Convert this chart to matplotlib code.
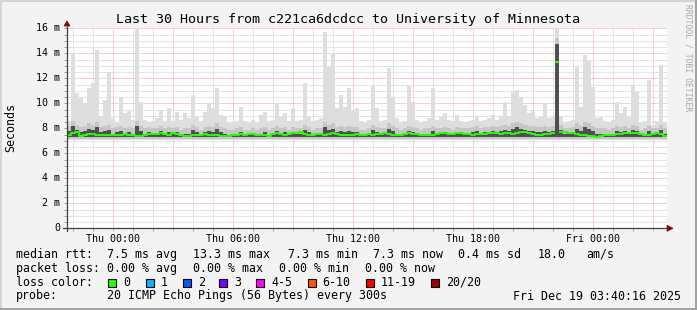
import numpy as np
import matplotlib
matplotlib.use("Agg")
import matplotlib.pyplot as plt
from matplotlib.patches import Rectangle, Polygon
from matplotlib.lines import Line2D

# -----------------------------
# data (ms), 150 bins of 12 minutes over 30 hours
# -----------------------------
rtt_max = [
    8.6, 14.0, 10.8, 10.4, 10.0, 11.2, 11.6, 14.3, 9.0, 10.3,
    12.5, 8.8, 8.5, 10.5, 9.2, 9.4, 8.7, 16.0, 10.1, 8.7,
    8.5, 8.6, 8.8, 9.5, 8.6, 9.6, 8.6, 9.3, 8.7, 9.2,
    8.8, 10.7, 9.0, 8.6, 9.3, 10.0, 9.6, 11.25, 9.1, 9.0,
    8.4, 8.5, 8.6, 9.7, 8.6, 8.5, 8.7, 8.5, 9.1, 9.3,
    8.6, 8.7, 10.0, 9.0, 9.2, 8.6, 9.6, 8.6, 8.7, 11.6,
    9.0, 8.6, 8.7, 8.8, 15.7, 12.9, 14.0, 9.6, 10.7, 9.7,
    11.2, 9.4, 9.6, 8.6, 8.5, 8.7, 11.4, 9.6, 8.6, 8.7,
    12.8, 10.5, 8.8, 8.5, 8.6, 11.4, 10.1, 8.7, 8.5, 8.6,
    8.8, 11.2, 8.7, 8.9, 9.2, 8.7, 8.6, 9.1, 8.6, 8.5,
    8.6, 8.7, 9.0, 8.6, 8.7, 8.8, 9.1, 8.7, 9.0, 10.1,
    9.0, 10.9, 11.1, 10.5, 9.9, 9.2, 9.4, 8.8, 8.9, 10.0,
    8.8, 9.0, 16.0, 9.0, 8.5, 8.6, 8.7, 12.9, 9.7, 13.9,
    13.4, 11.3, 8.8, 8.9, 8.6, 8.5, 8.7, 10.1, 9.2, 9.7,
    8.9, 11.5, 10.9, 8.4, 8.6, 11.9, 8.3, 8.6, 13.1, 8.5,
]

smoke_hi = [
    8.2, 8.6, 8.3, 8.1, 8.2, 8.4, 8.3, 8.5, 8.1, 8.2,
    8.3, 8.0, 8.1, 8.2, 8.0, 8.1, 8.0, 8.6, 8.2, 8.0,
    8.1, 8.0, 8.0, 8.2, 8.0, 8.1, 8.0, 8.1, 7.9, 8.0,
    8.0, 8.3, 8.1, 7.9, 8.1, 8.2, 8.1, 8.4, 8.1, 8.0,
    7.9, 7.9, 8.0, 8.1, 7.9, 7.9, 8.0, 7.9, 8.0, 8.1,
    7.9, 8.0, 8.2, 8.0, 8.1, 7.9, 8.1, 8.0, 8.0, 8.3,
    8.1, 7.9, 8.0, 8.0, 8.5, 8.3, 8.4, 8.1, 8.2, 8.1,
    8.2, 8.1, 8.1, 7.9, 7.9, 8.0, 8.3, 8.1, 8.0, 8.0,
    8.4, 8.2, 8.0, 7.9, 8.0, 8.2, 8.1, 8.0, 7.9, 8.0,
    8.0, 8.2, 8.0, 8.0, 8.1, 8.0, 7.9, 8.1, 8.0, 8.0,
    8.0, 8.1, 8.2, 8.0, 8.1, 8.1, 8.2, 8.1, 8.2, 8.3,
    8.2, 8.4, 8.5, 8.4, 8.3, 8.2, 8.2, 8.1, 8.1, 8.2,
    8.1, 8.2, 15.2, 8.3, 8.0, 8.0, 8.1, 8.4, 8.2, 8.5,
    8.4, 8.2, 8.0, 8.0, 8.0, 7.9, 8.0, 8.2, 8.1, 8.2,
    8.0, 8.3, 8.2, 7.9, 8.0, 8.2, 8.0, 8.0, 8.3, 8.0,
]

rtt_median = [
    7.48, 7.62, 7.72, 7.36, 7.44, 7.58, 7.52, 7.47, 7.43, 7.50,
    7.46, 7.44, 7.49, 7.45, 7.54, 7.50, 7.47, 7.42, 7.38, 7.45,
    7.58, 7.52, 7.56, 7.61, 7.54, 7.49, 7.64, 7.58, 7.44, 7.38,
    7.42, 7.47, 7.43, 7.50, 7.54, 7.49, 7.45, 7.47, 7.42, 7.40,
    7.38, 7.44, 7.49, 7.52, 7.47, 7.53, 7.55, 7.50, 7.45, 7.43,
    7.42, 7.52, 7.60, 7.56, 7.50, 7.58, 7.61, 7.66, 7.72, 7.58,
    7.47, 7.44, 7.51, 7.54, 7.50, 7.56, 7.61, 7.55, 7.49, 7.46,
    7.50, 7.47, 7.52, 7.48, 7.50, 7.54, 7.49, 7.52, 7.58, 7.64,
    7.55, 7.48, 7.45, 7.50, 7.56, 7.60, 7.57, 7.53, 7.49, 7.46,
    7.45, 7.50, 7.55, 7.62, 7.65, 7.58, 7.56, 7.60, 7.62, 7.57,
    7.53, 7.50, 7.55, 7.54, 7.58, 7.63, 7.65, 7.60, 7.57, 7.61,
    7.60, 7.58, 7.63, 7.68, 7.72, 7.65, 7.56, 7.50, 7.46, 7.52,
    7.58, 7.62, 13.30, 7.72, 7.68, 7.64, 7.62, 7.55, 7.50, 7.46,
    7.40, 7.35, 7.33, 7.38, 7.44, 7.46, 7.50, 7.55, 7.58, 7.61,
    7.62, 7.65, 7.60, 7.52, 7.47, 7.50, 7.58, 7.64, 7.55, 7.40,
]

bin_hours = 0.2
thu_midnight = 2.285          # hours after graph start
x_labels = ["Thu 00:00", "Thu 06:00", "Thu 12:00", "Thu 18:00", "Fri 00:00"]
y_values = [0, 2, 4, 6, 8, 10, 12, 14, 16]
y_labels = ["0", "2 m", "4 m", "6 m", "8 m", "10 m", "12 m", "14 m", "16 m"]

loss_labels = ["0", "1", "2", "3", "4-5", "6-10", "11-19", "20/20"]
loss_colors = ["#22ff00", "#00b8ff", "#0059ff", "#7e00ff", "#ff00ff",
               "#ff5500", "#ff0000", "#a00000"]

# -----------------------------
# figure
# -----------------------------
W, H = 697, 310
MONO = "DejaVu Sans Mono"
fig = plt.figure(figsize=(W / 100, H / 100), dpi=100, facecolor="#f3f3f3")


def fx(x):
    return x / W


def fy(y):
    return 1 - y / H


ax = fig.add_axes([fx(67), fy(228.3), 600 / W, 200 / H])
ax.set_facecolor("white")
ax.set_xlim(0, 30)
ax.set_ylim(0, 16)

n = len(rtt_max)
edges = np.arange(n + 1) * bin_hours
top = np.append(rtt_max, rtt_max[-1])
hi = np.append(smoke_hi, smoke_hi[-1])

# smoke
ax.fill_between(edges, 7.05, top, step="post", color="#dedede", lw=0, zorder=2)
ax.fill_between(edges, 7.15, hi, step="post", color="#c6c6c6", lw=0, zorder=3)
ax.fill_between(edges, 7.3, hi - 0.42, step="post", color="#505050", lw=0, zorder=4)

# median line (break on large jumps)
xs, ys = [], []
for i, m in enumerate(rtt_median):
    if i > 0 and abs(m - rtt_median[i - 1]) > 1:
        xs.append(np.nan)
        ys.append(np.nan)
    xs += [edges[i], edges[i + 1]]
    ys += [m, m]
ax.plot(xs, ys, color=loss_colors[0], lw=1.4, zorder=5, solid_capstyle="butt")

# grid
major_x = thu_midnight + 3 * np.arange(0, 10)
major_x = major_x[major_x <= 30]
minor_x = [h for h in thu_midnight - 2 + np.arange(0, 30)
           if (h <= 30) and not np.isclose((h - thu_midnight) % 3, 0)]
ax.set_xticks(major_x)
ax.set_xticklabels([x_labels[k // 2] if k % 2 == 0 else "" for k in range(len(major_x))],
                   fontsize=7.2, family=MONO)
ax.set_xticks(minor_x, minor=True)

ax.set_yticks(y_values)
ax.set_yticklabels([])
ax.set_yticks([v for v in np.arange(0, 16.01, 0.5) if v % 2 != 0], minor=True)

dots = (0, (1, 1))
ax.grid(which="major", color="#f2a0a0", linestyle=dots, linewidth=0.72, zorder=1)
ax.grid(which="minor", color="#cccccc", linestyle=dots, linewidth=0.72, zorder=1)
ax.set_axisbelow(True)

ax.tick_params(which="both", direction="out", length=2, width=0.72, color="#a0a0a0", pad=1.5)
ax.tick_params(axis="x", which="major", color="#f2a0a0", length=2.5)

for v, lab in zip(y_values, y_labels):
    ax.text(60 / W, fy(228.3 - v * 12.5), lab, transform=fig.transFigure,
            ha="right", va="center", fontsize=7.2, family=MONO)

for s in ax.spines.values():
    s.set_visible(False)

# axes lines with arrows
axis_col = "#404040"
arrow_col = "#8b0000"
fig.add_artist(Line2D([fx(67), fx(67)], [fy(231), fy(26)], color=axis_col, lw=0.9))
fig.add_artist(Line2D([fx(63), fx(668)], [fy(228.3), fy(228.3)], color=axis_col, lw=0.9))
fig.add_artist(Polygon([[fx(64), fy(26)], [fx(70), fy(26)], [fx(67), fy(21)]],
                       closed=True, fc=arrow_col, ec=arrow_col, lw=0.5))
fig.add_artist(Polygon([[fx(667), fy(225.3)], [fx(667), fy(231.3)], [fx(673), fy(228.3)]],
                       closed=True, fc=arrow_col, ec=arrow_col, lw=0.5))

# title / labels
fig.text(fx(347.5), fy(19.3), "Last 30 Hours from c221ca6dcdcc to University of Minnesota",
         ha="center", va="center", fontsize=9.6, family=MONO)
fig.text(fx(11), fy(127.5), "Seconds", rotation=90, ha="center", va="center",
         fontsize=8.4, family=MONO)
fig.text(fx(688), fy(58), "RRDTOOL / TOBI OETIKER", rotation=270, ha="center", va="center",
         fontsize=5.8, family=MONO, color="#a8a8a8")

# legend rows
legend_rows = [
    (254.3, [(16, "median rtt:"), (107.3, "7.5 ms avg"), (193.3, "13.3 ms max"),
             (288.3, "7.3 ms min"), (372.7, "7.3 ms now"), (458.3, "0.4 ms sd"),
             (537.7, "18.0"), (586, "am/s")]),
    (268.3, [(16, "packet loss:"), (107.3, "0.00 % avg"), (193.3, "0.00 % max"),
             (279.3, "0.00 % min"), (365, "0.00 % now")]),
    (282.3, [(16, "loss color:")]),
    (296.0, [(16, "probe:"), (107.3, "20 ICMP Echo Pings (56 Bytes) every 300s"),
             (513.3, "Fri Dec 19 03:40:16 2025")]),
]
for y, items in legend_rows:
    for x, s in items:
        fig.text(fx(x), fy(y), s, ha="left", va="center", fontsize=8.4, family=MONO)

box_x = [108.3, 145.7, 182.7, 219.3, 256, 307.7, 365.7, 431]
for bx, lab, col in zip(box_x, loss_labels, loss_colors):
    fig.add_artist(Rectangle((fx(bx), fy(286.7)), 8 / W, 8 / H, transform=fig.transFigure,
                             fc=col, ec="black", lw=0.8))
    fig.text(fx(bx + 15), fy(282.3), lab, ha="left", va="center", fontsize=8.4, family=MONO)

# 3d frame
fig.add_artist(Line2D([0, 1], [fy(0.5), fy(0.5)], color="#d4d4d4", lw=1.4))
fig.add_artist(Line2D([fx(0.5), fx(0.5)], [0, 1], color="#d4d4d4", lw=1.4))
fig.add_artist(Line2D([0, 1], [fy(309), fy(309)], color="#a0a0a0", lw=1.4))
fig.add_artist(Line2D([fx(696), fx(696)], [0, 1], color="#a0a0a0", lw=1.4))

fig.savefig("out.png", dpi=100, facecolor=fig.get_facecolor())
